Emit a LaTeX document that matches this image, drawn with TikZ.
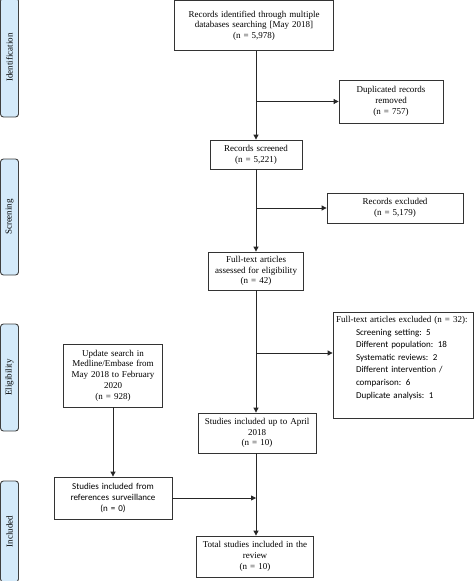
\documentclass[tikz,border=0pt]{standalone}
\usepackage{fontspec}
\setmainfont{Liberation Serif}
\newfontfamily\calibri{Carlito}
\usetikzlibrary{arrows.meta}
\definecolor{phasefill}{RGB}{212,234,250}
\newcommand\exitem[1]{\hspace*{20pt}{\calibri #1}}

\begin{document}
\begin{tikzpicture}[x=1pt,y=-1pt,
            box/.style={draw=black!80, line width=0.8pt, align=center, inner sep=2pt,
                font=\fontsize{9}{10.7}\selectfont},
            phase/.style={draw=black!75, line width=0.9pt, fill=phasefill, rounded corners=3pt,
                rotate=90, minimum height=18, inner sep=0pt, font=\fontsize{9}{10}\selectfont},
            arr/.style={-{Triangle[width=5pt,length=5pt]}, line width=0.8pt, draw=black!85}]

            \useasboundingbox (0,0) rectangle (474,581);

            \node[phase, minimum width=119] (lid) at (9.5,57.5) {Identification};
            \node[phase, minimum width=116] (lsc) at (9.5,217) {Screening};
            \node[phase, minimum width=107] (lel) at (9.5,377.5) {Eligibility};
            \node[phase, minimum width=101] (lin) at (9.5,531.5) {Included};

            \node[box, minimum width=159, minimum height=50, text width=152] (id) at (254,25.75)
                {Records identified through multiple\\databases searching [May 2018]\\(n = 5,978)};
            \node[box, minimum width=104, minimum height=43, text width=98] (dup) at (391,101.5)
                {Duplicated records\\removed\\(n = 757)};
            \node[box, minimum width=92, minimum height=29, text width=86] (scr) at (256,154.5)
                {Records screened\\(n = 5,221)};
            \node[box, minimum width=136, minimum height=30, text width=130] (exc) at (395,208)
                {Records excluded\\(n = 5,179)};
            \node[box, minimum width=95, minimum height=38, text width=89] (ft) at (256,271)
                {Full-text articles\\assessed for eligibility\\(n = 42)};
            \node[box, minimum width=140, text width=134, align=left, inner ysep=3.5pt,
                font=\fontsize{9}{12.6}\selectfont, text height=7pt, text depth=92pt] (fte) at (403,365)
                {Full-text articles excluded (n = 32):\\
                \exitem{Screening setting: 5}\\
                \exitem{Different population: 18}\\
                \exitem{Systematic reviews: 2}\\
                \exitem{Different intervention /}\\
                \exitem{comparison: 6}\\
                \exitem{Duplicate analysis: 1}};
            \node[box, minimum width=99, minimum height=63, text width=93] (upd) at (113,375.5)
                {Update search in\\Medline/Embase from\\May 2018 to February\\2020\\(n = 928)};
            \node[box, minimum width=118, minimum height=40, text width=112] (upto) at (257,433)
                {Studies included up to April\\2018\\(n = 10)};
            \node[box, minimum width=118, minimum height=42, text width=112, font=\fontsize{9}{10.7}\calibri] (refs) at (113,498)
                {Studies included from\\references surveillance\\(n = 0)};
            \node[box, minimum width=117, minimum height=41, text width=111] (tot) at (255,556.5)
                {Total studies included in the\\review\\(n = 10)};

            \coordinate (b3) at (256,353);

            \draw[arr] (id.south -| scr.north) -- (scr);
            \draw[arr] (scr.north |- dup) -- (dup);
            \draw[arr] (scr) -- (ft);
            \draw[arr] (scr.south |- exc) -- (exc);
            \draw[arr] (ft) -- (ft.south |- upto.north);
            \draw[arr] (b3) -- (b3 -| fte.west);
            \draw[arr] (upd) -- (refs);
            \draw[arr] (upto.south -| ft.south) -- (ft.south |- tot.north);
            \draw[arr] (refs.east) -- (refs.east -| ft.south);
        \end{tikzpicture}
\end{document}
